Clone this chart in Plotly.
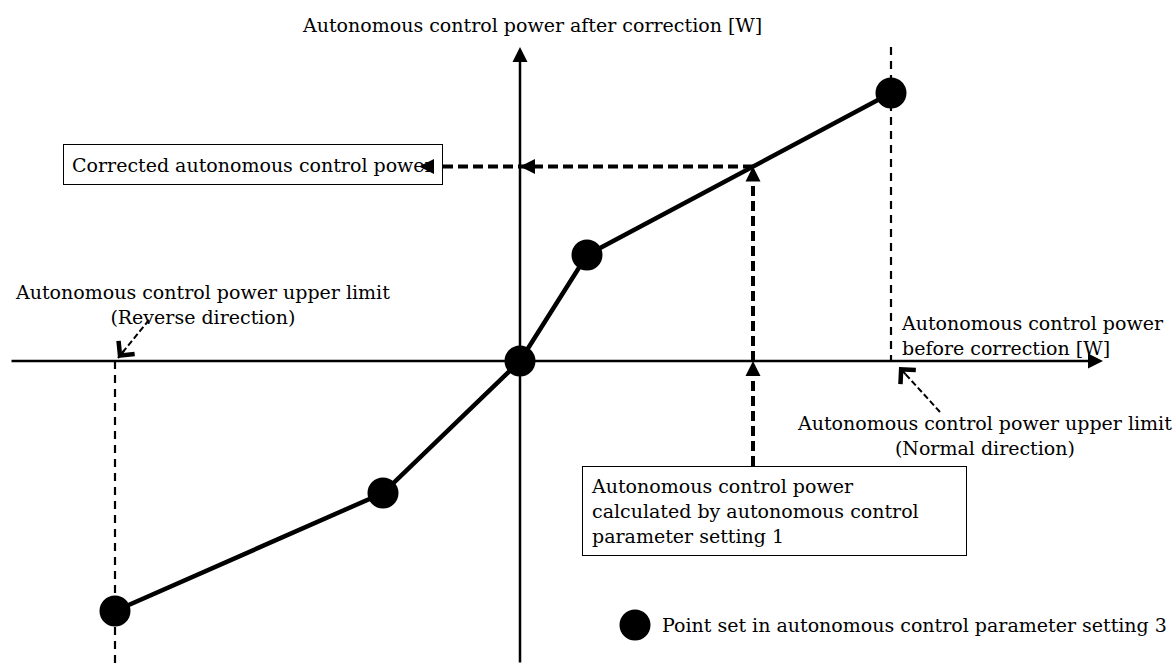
import numpy as np
import plotly.graph_objects as go

# points set in autonomous control parameter setting 3
# (power before correction, power after correction), origin at axis crossing
point_before = [-405, -137, 0, 67, 371]
point_after = [-250, -132, 0, 106, 268]

upper_limit_reverse = -405
upper_limit_normal = 371
calc_power = 233  # calculated by autonomous control parameter setting 1
corrected_power = float(np.interp(calc_power, point_before, point_after))

# drawing extents (1 unit = 1 px)
X_RANGE = [-520, 656]
Y_RANGE = [-303, 361]
x_axis_ends = (-510, 583)
y_axis_ends = (-303, 314)
box_top = -105      # top of the "calculated" box
box_right = -77     # right edge of the "corrected" box

FONT = dict(family="DejaVu Serif", size=19, color="black")

fig = go.Figure()
annotations = []


def arrow(x, y, ax, ay, head=2, width=2.5, size=1.2):
    annotations.append(dict(
        x=x, y=y, ax=ax, ay=ay, xref='x', yref='y', axref='x', ayref='y',
        text='', showarrow=True, arrowhead=head, arrowwidth=width,
        arrowsize=size, arrowcolor='black', standoff=0
    ))


def dashed(xs, ys, width, dash):
    fig.add_trace(go.Scatter(
        x=xs, y=ys, mode='lines', hoverinfo='skip',
        line=dict(color='black', width=width, dash=dash)
    ))


def head_along(tip, tail, style, width, size, back):
    # short arrow whose solid part hides under the head
    d = np.array(tail, float) - np.array(tip, float)
    d = d / np.linalg.norm(d) * back
    arrow(tip[0], tip[1], tip[0] + d[0], tip[1] + d[1], style, width, size)


# upper limit lines
dashed([upper_limit_normal, upper_limit_normal], [y_axis_ends[1], 0], 2.2, '8px,6px')
dashed([upper_limit_reverse, upper_limit_reverse], [0, Y_RANGE[0]], 2.2, '8px,6px')

# calculated -> corrected path
dashed([calc_power, calc_power], [box_top, corrected_power], 4, '10px,5px')
dashed([calc_power, box_right], [corrected_power, corrected_power], 4, '10px,5px')

# leader lines
rev_tip, rev_tail = (-402, 3), (-371, 41)
nor_tip, nor_tail = (379, -6), (420, -51)
dashed([rev_tail[0], rev_tip[0]], [rev_tail[1], rev_tip[1]], 2, '6px,3px')
dashed([nor_tail[0], nor_tip[0]], [nor_tail[1], nor_tip[1]], 2, '6px,3px')

# characteristic curve
fig.add_trace(go.Scatter(
    x=point_before, y=point_after, mode='lines+markers', hoverinfo='skip',
    line=dict(color='black', width=4.5),
    marker=dict(color='black', size=31)
))

# legend marker
fig.add_trace(go.Scatter(
    x=[115], y=[-264], mode='markers', hoverinfo='skip',
    marker=dict(color='black', size=31)
))

# axes
arrow(0, y_axis_ends[1], 0, y_axis_ends[0])
arrow(x_axis_ends[1], 0, x_axis_ends[0], 0)

# arrowheads on thick dashed path
head_along((calc_power, 0), (calc_power, -20), 2, 4, 0.75, 14)
head_along((calc_power, corrected_power), (calc_power, 0), 2, 4, 0.75, 14)
head_along((0, corrected_power), (calc_power, corrected_power), 2, 4, 0.75, 14)
head_along((box_right - 24, corrected_power), (0, corrected_power), 2, 4, 0.75, 14)

# leader heads
head_along(rev_tip, rev_tail, 4, 2, 2, 12)
head_along(nor_tip, nor_tail, 4, 2, 2, 12)


def label(x, y, text, xanchor='center', align='center'):
    annotations.append(dict(
        x=x, y=y, xref='x', yref='y', text=text, showarrow=False,
        xanchor=xanchor, yanchor='middle', align=align, font=FONT
    ))


label(12, 336, "Autonomous control power after correction [W]")
label(-318, 56.5, "Autonomous control power upper limit<br>(Reverse direction)")
label(464, -74.5, "Autonomous control power upper limit<br>(Normal direction)")
label(379, 25.5, "Autonomous control power<br>before correction [W]", 'left', 'left')
label(140, -264, "Point set in autonomous control parameter setting 3", 'left', 'left')

# boxed notes
annotations.append(dict(
    x=-457, y=196.5, xref='x', yref='y', text="Corrected autonomous control power",
    showarrow=False, xanchor='left', yanchor='middle', align='left',
    width=362, height=23, borderpad=8, borderwidth=1, bordercolor='black',
    bgcolor='rgba(255,255,255,0)', font=FONT
))
annotations.append(dict(
    x=62, y=-149.5, xref='x', yref='y',
    text="Autonomous control power<br>calculated by autonomous control<br>parameter setting 1",
    showarrow=False, xanchor='left', yanchor='middle', align='left',
    width=367, height=72, borderpad=8, borderwidth=1, bordercolor='black',
    bgcolor='white', font=FONT
))

fig.update_layout(
    width=1176, height=664,
    margin=dict(l=0, r=0, t=0, b=0),
    plot_bgcolor='white', paper_bgcolor='white',
    showlegend=False,
    xaxis=dict(range=X_RANGE, visible=False, fixedrange=True),
    yaxis=dict(range=Y_RANGE, visible=False, fixedrange=True),
    annotations=annotations
)

fig.write_html("out.html", config={'displayModeBar': False},
               post_script="document.body.style.margin='0';document.body.style.overflow='hidden';")
